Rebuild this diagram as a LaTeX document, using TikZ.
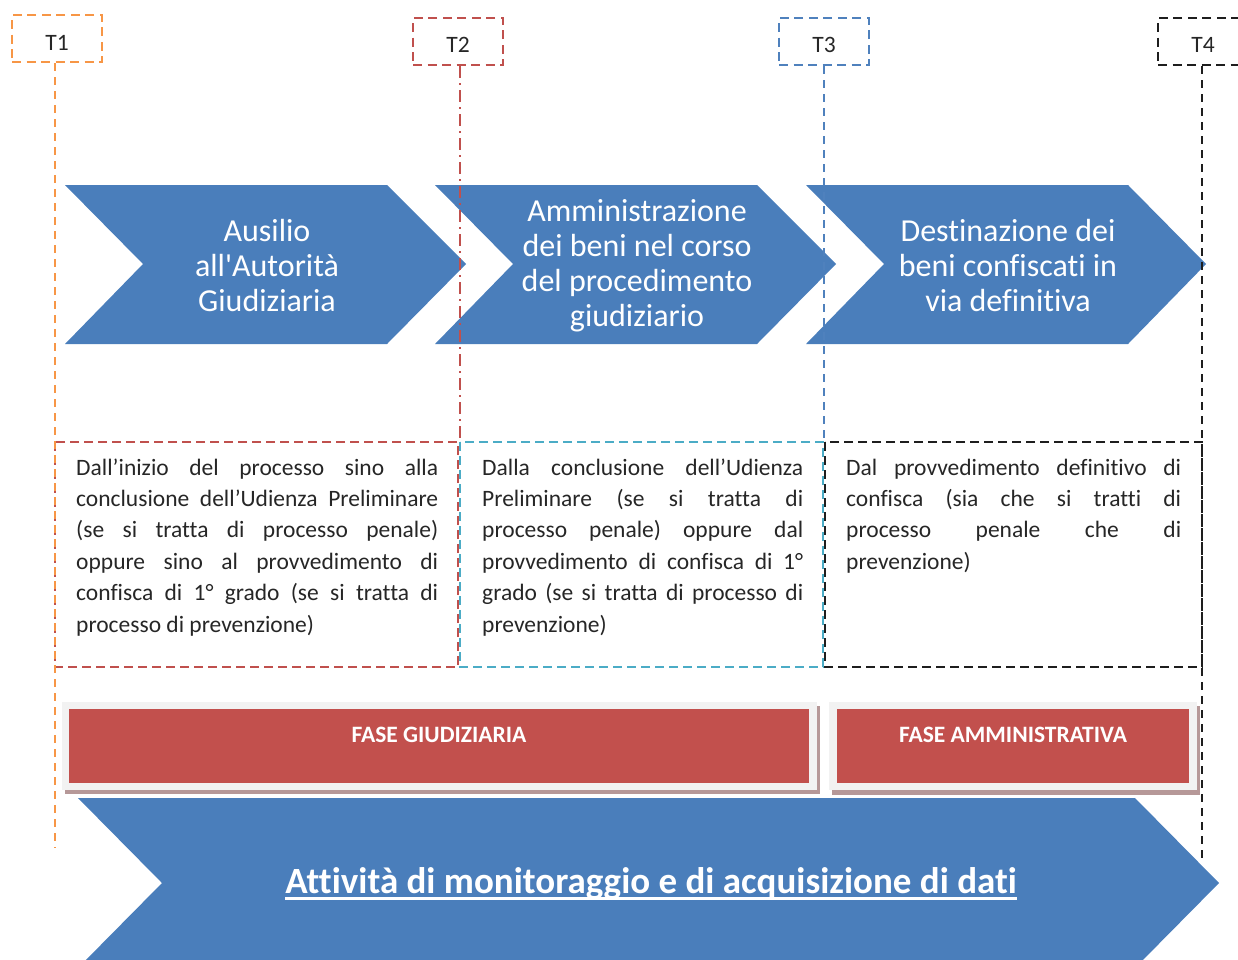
\documentclass[tikz,border=0pt]{standalone}
\usepackage{fontspec}
\setmainfont{Carlito}[Ligatures={TeX,NoCommon}]
\definecolor{chevblue}{RGB}{74,126,187}
\definecolor{barred}{RGB}{194,80,77}
\definecolor{framegray}{RGB}{242,242,242}
\definecolor{shadowc}{RGB}{182,152,152}
\definecolor{torange}{RGB}{247,150,70}
\definecolor{tred}{RGB}{192,80,77}
\definecolor{tblue}{RGB}{79,129,189}
\definecolor{tcyan}{RGB}{75,172,198}
\definecolor{tblack}{RGB}{30,30,30}
\newcommand\jl[1]{\makebox[\linewidth][s]{#1}\\}
\newcommand\tlab[2]{\raisebox{-#1pt}[0pt][0pt]{#2}}
\begin{document}
\begin{tikzpicture}[x=1pt,y=-1pt,
  tbox/.style={draw=#1, line width=2pt, dash pattern=on 9pt off 5.5pt, minimum width=90pt, minimum height=47pt, inner sep=0pt, font=\fontsize{23.5}{26}\selectfont, text=black!85},
  vline/.style={line width=2pt, dash pattern=on 8pt off 6pt},
  boxdash/.style={line width=2pt, dash pattern=on 9pt off 5pt},
  chevtext/.style={text=white, align=center, font=\fontsize{32}{35}\selectfont, inner sep=0pt},
  boxtext/.style={anchor=base west, inner sep=0pt, font=\fontsize{23.5}{31.4}\selectfont, text=black!85},
  bartext/.style={text=white, font=\bfseries\fontsize{23.5}{26}\selectfont, inner sep=0pt}]
\useasboundingbox (0,0) rectangle (1238,959);
\clip (0,0) rectangle (1238,959);

% chevrons
\fill[chevblue] (65,185) -- (387,185) -- (466,264) -- (387,344) -- (65,344) -- (143,264) -- cycle;
\fill[chevblue] (435,185) -- (757,185) -- (836,264) -- (757,344) -- (435,344) -- (513,264) -- cycle;
\fill[chevblue] (806,185) -- (1128,185) -- (1206,264) -- (1128,344) -- (806,344) -- (884,264) -- cycle;
\node[chevtext] (c1) at (267,265) {Ausilio\\all\textquotesingle Autorità\\Giudiziaria};
\node[chevtext] (c2) at (637,266) {Amministrazione\\dei beni nel corso\\del procedimento\\giudiziario};
\node[chevtext] (c3) at (1008,265) {Destinazione dei\\beni confiscati in\\via definitiva};

% dashed text boxes
\draw[tred, boxdash] (55,442) rectangle (458,667);
\draw[tcyan, boxdash] (460,442) rectangle (823,667);
\draw[tblack, boxdash] (825,442) rectangle (1202,667);

\node[boxtext] (d1) at (76,475) {\parbox[t]{362pt}{%
\jl{Dall’inizio del processo sino alla}%
\jl{conclusione dell’Udienza Preliminare}%
\jl{(se si tratta di processo penale)}%
\jl{oppure sino al provvedimento di}%
\jl{confisca di 1° grado (se si tratta di}%
processo di prevenzione)}};
\node[boxtext] (d2) at (482,475) {\parbox[t]{321pt}{%
\jl{Dalla conclusione dell’Udienza}%
\jl{Preliminare (se si tratta di}%
\jl{processo penale) oppure dal}%
\jl{provvedimento di confisca di 1°}%
\jl{grado (se si tratta di processo di}%
prevenzione)}};
\node[boxtext] (d3) at (846,475) {\parbox[t]{335pt}{%
\jl{Dal provvedimento definitivo di}%
\jl{confisca (sia che si tratti di}%
\jl{processo penale che di}%
prevenzione)}};

% T markers
\node[tbox=torange] (t1) at (57,38.5) {\tlab{12}{T1}};
\node[tbox=tred] (t2) at (458,41.5) {\tlab{11}{T2}};
\node[tbox=tblue] (t3) at (824,41.5) {\tlab{11}{T3}};
\node[tbox=tblack] (t4) at (1203,41.5) {\tlab{11}{T4}};
\coordinate (e1) at (55,848);
\coordinate (e2) at (460,442);
\coordinate (e3) at (824,442);
\coordinate (e4) at (1202,862);
\draw[vline, torange] (t1.south -| e1) -- (e1);
\draw[line width=2pt, tred, dash pattern=on 12pt off 5pt on 2pt off 5pt] (t2.south -| e2) -- (e2);
\draw[vline, tblue] (t3.south -| e3) -- (e3);
\draw[vline, tblack] (t4.south -| e4) -- (e4);

% phase bars
\fill[shadowc] (64.5,706) rectangle (820,794);
\fill[framegray] (62,702) rectangle (817,790);
\fill[barred] (69,709) rectangle (809,783);
\fill[shadowc] (831.5,706) rectangle (1199.5,795);
\fill[framegray] (829,702) rectangle (1197,790);
\fill[barred] (837,709) rectangle (1189,783);
\node[bartext] (f1) at (439,735) {FASE GIUDIZIARIA};
\node[bartext] (f2) at (1013,735) {FASE AMMINISTRATIVA};

% bottom arrow
\fill[chevblue] (78,798) -- (1135,798) -- (1219,883) -- (1135,968) -- (78,968) -- (162,883) -- cycle;
\node[text=white, font=\bfseries\fontsize{37}{40}\selectfont, inner sep=0pt, anchor=base] (att) at (651,893) {Attività di monitoraggio e di acquisizione di dati};
\draw[white, line width=2.2pt] ([yshift=-5.5pt]att.base west) -- ([yshift=-5.5pt]att.base east);
\end{tikzpicture}
\end{document}
